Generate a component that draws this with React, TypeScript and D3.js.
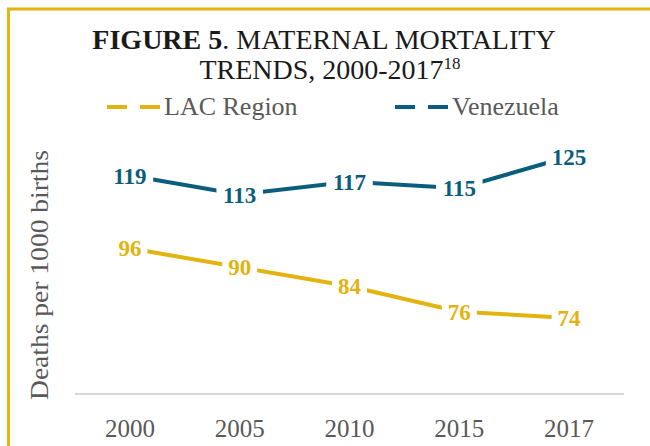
import React from "react";
import * as d3 from "d3";

const years = ["2000", "2005", "2010", "2015", "2017"];
const lacValues = [96, 90, 84, 76, 74];
const venValues = [119, 113, 117, 115, 125];
const seriesNames = ["LAC Region", "Venezuela"];
const yAxisTitle = "Deaths per 1000 births";

const W = 650;
const H = 446;
const GOLD = "#e3b30f";
const TEAL = "#0a5d7c";
const GRAY = "#595959";
const FONT = "'Liberation Serif', 'DejaVu Serif', serif";

export default function App() {
  const x = d3.scaleBand<string>().domain(years).range([75, 624]);
  const y = d3.scaleLinear().domain([50, 140]).range([394, 109]);
  const cx = (d: string) => (x(d) as number) + x.bandwidth() / 2;

  const line = d3
    .line<number>()
    .x((_, i) => cx(years[i]))
    .y((v) => y(v));

  const series = [
    { name: seriesNames[0], values: lacValues, color: GOLD },
    { name: seriesNames[1], values: venValues, color: TEAL },
  ];

  return (
    <svg
      width={W}
      height={H}
      style={{ position: "absolute", left: 0, top: 0, background: "#fff" }}
      fontFamily={FONT}
    >
      <rect x={0} y={0} width={W} height={H} fill="#fff" />
      {/* frame */}
      <path d={`M8.5,${H + 5} L8.5,9 L${W + 5},9`} fill="none" stroke={GOLD} strokeWidth={3} />

      {/* title */}
      <text x={324} y={49} textAnchor="middle" fontSize={28} fill="#1a1a1a">
        <tspan fontWeight="bold">FIGURE 5</tspan>
        <tspan>. MATERNAL MORTALITY</tspan>
      </text>
      <text x={330} y={79} textAnchor="middle" fontSize={28} fill="#1a1a1a">
        <tspan>TRENDS, 2000-2017</tspan>
        <tspan fontSize={17} dy={-10}>18</tspan>
      </text>

      {/* legend */}
      {series.map((s, i) => {
        const lx = i === 0 ? 107 : 395;
        return (
          <g key={s.name}>
            <line x1={lx} x2={lx + 53} y1={107} y2={107} stroke={s.color} strokeWidth={4} strokeDasharray="20 13" />
            <text x={lx + 57} y={115} fontSize={26} fill={GRAY}>
              {s.name}
            </text>
          </g>
        );
      })}

      {/* y axis title */}
      <text
        transform={`translate(48,275) rotate(-90)`}
        textAnchor="middle"
        fontSize={26}
        fill={GRAY}
        textLength={250}
        lengthAdjust="spacingAndGlyphs"
      >
        {yAxisTitle}
      </text>

      {/* x axis */}
      <line x1={75} x2={624} y1={394} y2={394} stroke="#d9d9d9" strokeWidth={2} />
      {years.map((yr) => (
        <text key={yr} x={cx(yr)} y={437} textAnchor="middle" fontSize={25} fill={GRAY}>
          {yr}
        </text>
      ))}

      {/* lines */}
      {series.map((s) => (
        <path key={s.name} d={line(s.values) as string} fill="none" stroke={s.color} strokeWidth={4} />
      ))}

      {/* data labels */}
      {series.map((s) =>
        s.values.map((v, i) => {
          const px = cx(years[i]);
          const py = y(v);
          const label = String(v);
          const w = label.length * 11.5 + 12;
          return (
            <g key={s.name + i}>
              <rect x={px - w / 2} y={py - 13} width={w} height={26} fill="#fff" />
              <text x={px} y={py + 8} textAnchor="middle" fontSize={23} fontWeight="bold" fill={s.color}>
                {label}
              </text>
            </g>
          );
        })
      )}
    </svg>
  );
}
